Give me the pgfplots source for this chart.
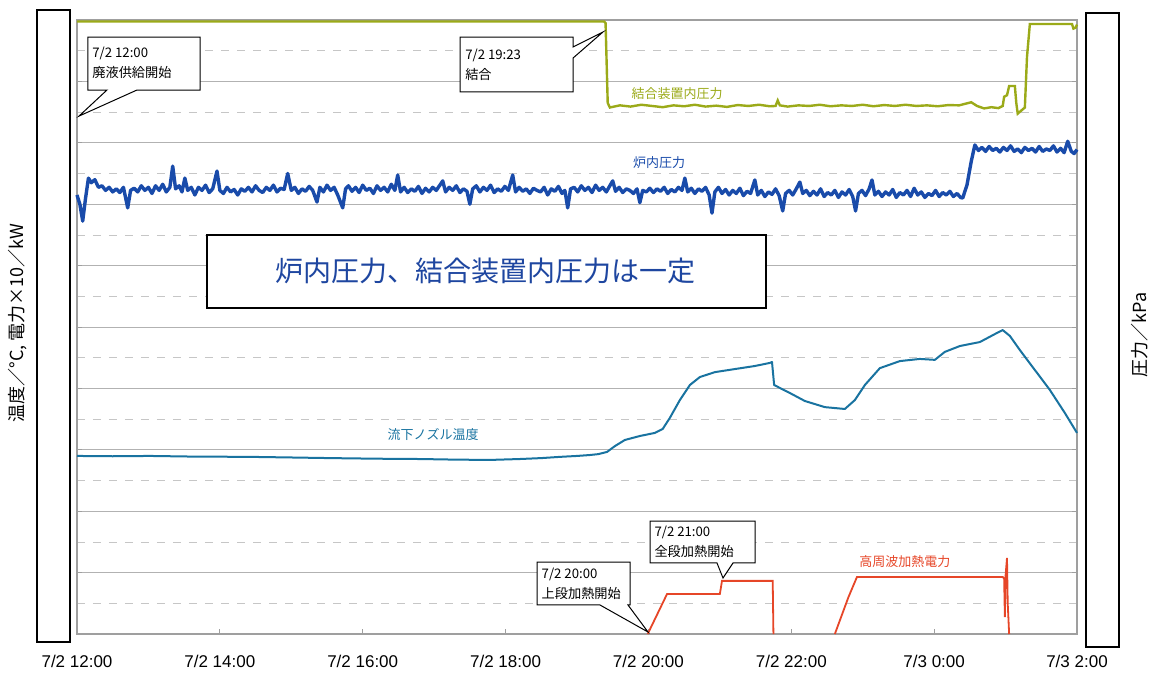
\documentclass[border=0pt]{standalone}
\usepackage{pgfplots}
\pgfplotsset{compat=1.18}
\usepackage{fontspec}
\setmainfont{Liberation Sans}
\newfontfamily\jp{Noto Sans CJK JP}
\definecolor{cgreen}{RGB}{155,170,25}
\definecolor{cblue}{RGB}{25,75,170}
\definecolor{cteal}{RGB}{25,115,160}
\definecolor{cred}{RGB}{230,70,40}
\definecolor{ctext}{RGB}{30,70,160}
\begin{document}
\begin{tikzpicture}
\path[use as bounding box] (-38.5pt,-21.5pt) rectangle (540.5pt,317pt);
\begin{axis}[
  at={(0,0)}, anchor=south west,
  width=500pt, height=307pt, scale only axis,
  xmin=0, xmax=14, ymin=0, ymax=20,
  xtick={0,2,...,14},
  xticklabels={7/2 12:00,7/2 14:00,7/2 16:00,7/2 18:00,7/2 20:00,7/2 22:00,7/3 0:00,7/3 2:00},
  xticklabel style={font=\fontsize{8.5}{10}\selectfont, yshift=-7pt},
  ytick={0,2,...,20}, minor ytick={1,3,...,19},
  yticklabels={},
  ymajorgrids, yminorgrids,
  major grid style={gray!60, line width=0.4pt},
  minor grid style={gray!45, dash pattern=on 4pt off 4pt, line width=0.4pt},
  axis line style={gray!75, line width=0.6pt},
  tick style={gray!75, line width=0.5pt},
  tick align=inside, major tick length=2.5pt, minor tick length=0pt,
  xtick pos=bottom,
  clip=false,
]
% green: pressure in coupling device
\addplot[cgreen, line width=1.2pt] table {
0 19.95
7.38 19.95
7.40 19.9
7.43 17.30
7.46 17.15
7.6 17.22
7.75 17.18
7.9 17.24
8.05 17.2
8.2 17.16
8.35 17.22
8.5 17.19
8.65 17.24
8.8 17.18
8.95 17.21
9.1 17.17
9.25 17.23
9.4 17.2
9.55 17.24
9.7 17.19
9.78 17.2
9.81 17.38
9.84 17.22
9.95 17.18
10.1 17.22
10.25 17.2
10.4 17.24
10.55 17.19
10.7 17.22
10.85 17.2
11.0 17.24
11.15 17.19
11.3 17.23
11.45 17.2
11.6 17.24
11.75 17.2
11.9 17.22
12.05 17.19
12.2 17.23
12.35 17.22
12.45 17.28
12.52 17.32
12.6 17.2
12.7 17.12
12.8 17.16
12.9 17.13
12.96 17.2
12.98 17.5
13.02 17.55
13.05 17.85
13.13 17.85
13.15 17.3
13.17 16.95
13.22 17.05
13.27 17.15
13.3 18.8
13.34 19.87
13.93 19.87
13.95 19.72
13.98 19.75
14.0 19.85
};
% blue: furnace pressure
\addplot[cblue, line width=1.7pt, line join=round] table {
0.00 14.30
0.04 14.00
0.08 13.45
0.12 14.20
0.16 14.85
0.20 14.70
0.25 14.80
0.30 14.55
0.35 14.60
0.40 14.45
0.45 14.55
0.50 14.40
0.55 14.50
0.60 14.38
0.65 14.55
0.71 13.88
0.75 14.45
0.80 14.52
0.85 14.40
0.90 14.60
0.95 14.45
1.00 14.55
1.05 14.35
1.10 14.60
1.15 14.45
1.20 14.65
1.25 14.40
1.30 14.55
1.34 15.24
1.38 14.50
1.43 14.60
1.47 14.40
1.51 14.85
1.55 14.45
1.60 14.55
1.65 14.30
1.70 14.55
1.75 14.45
1.80 14.62
1.85 14.38
1.90 14.50
1.96 15.08
2.00 14.45
2.05 14.35
2.10 14.55
2.15 14.40
2.20 14.48
2.25 14.30
2.30 14.50
2.35 14.42
2.40 14.55
2.45 14.40
2.50 14.60
2.55 14.45
2.60 14.38
2.65 14.55
2.70 14.45
2.75 14.62
2.80 14.40
2.85 14.52
2.90 14.48
2.95 15.00
3.00 14.45
3.05 14.55
3.10 14.35
3.15 14.50
3.20 14.42
3.25 14.58
3.30 14.45
3.36 14.07
3.40 14.55
3.45 14.40
3.50 14.62
3.55 14.45
3.60 14.55
3.65 14.30
3.72 13.88
3.76 14.50
3.80 14.60
3.85 14.42
3.90 14.55
3.95 14.38
4.00 14.62
4.05 14.45
4.10 14.52
4.15 14.35
4.20 14.60
4.25 14.45
4.30 14.55
4.35 14.40
4.40 14.65
4.45 14.45
4.49 14.95
4.53 14.40
4.58 14.55
4.63 14.38
4.68 14.50
4.73 14.42
4.78 14.58
4.83 14.35
4.88 14.52
4.93 14.40
4.98 14.55
5.03 14.45
5.08 14.62
5.12 14.76
5.16 14.40
5.21 14.55
5.26 14.45
5.31 14.60
5.36 14.38
5.41 14.50
5.46 14.42
5.50 14.00
5.54 14.50
5.59 14.60
5.64 14.40
5.69 14.55
5.74 14.45
5.79 14.62
5.84 14.38
5.89 14.50
5.94 14.42
5.99 14.58
6.04 14.45
6.10 14.95
6.14 14.40
6.19 14.55
6.24 14.42
6.29 14.50
6.34 14.35
6.39 14.52
6.44 14.45
6.49 14.40
6.54 14.55
6.59 14.30
6.64 14.50
6.69 14.42
6.74 14.58
6.79 14.35
6.83 14.45
6.87 13.88
6.91 14.50
6.96 14.55
7.01 14.40
7.06 14.60
7.11 14.45
7.16 14.55
7.21 14.38
7.26 14.62
7.31 14.45
7.36 14.55
7.41 14.40
7.46 14.60
7.50 14.76
7.54 14.42
7.59 14.55
7.64 14.38
7.69 14.50
7.74 14.45
7.79 14.35
7.84 14.50
7.88 14.05
7.92 14.45
7.97 14.40
8.02 14.52
8.07 14.38
8.12 14.50
8.17 14.42
8.22 14.55
8.27 14.35
8.32 14.48
8.37 14.40
8.42 14.55
8.47 14.45
8.51 14.85
8.55 14.40
8.60 14.52
8.65 14.35
8.70 14.50
8.75 14.42
8.80 14.55
8.85 14.30
8.89 13.71
8.93 14.40
8.98 14.55
9.03 14.35
9.08 14.48
9.13 14.30
9.18 14.45
9.23 14.35
9.28 14.52
9.33 14.28
9.38 14.42
9.43 14.35
9.49 14.79
9.53 14.30
9.58 14.45
9.63 14.25
9.68 14.40
9.73 14.32
9.78 14.50
9.83 14.28
9.88 13.78
9.92 14.35
9.97 14.45
10.02 14.30
10.07 14.50
10.12 14.72
10.16 14.35
10.21 14.45
10.26 14.28
10.31 14.42
10.36 14.30
10.41 14.50
10.46 14.25
10.51 14.38
10.56 14.30
10.61 14.45
10.66 14.22
10.71 14.40
10.76 14.30
10.81 14.48
10.86 14.25
10.90 13.78
10.94 14.35
10.99 14.45
11.04 14.28
11.09 14.50
11.13 14.79
11.17 14.30
11.22 14.42
11.27 14.25
11.32 14.40
11.37 14.30
11.42 14.48
11.47 14.22
11.52 14.38
11.57 14.30
11.62 14.45
11.67 14.25
11.72 14.52
11.77 14.30
11.82 14.40
11.87 14.22
11.92 14.35
11.97 14.28
12.02 14.45
12.07 14.25
12.12 14.38
12.17 14.30
12.22 14.42
12.27 14.25
12.32 14.35
12.37 14.22
12.40 14.20
12.46 14.63
12.52 15.40
12.57 15.93
12.62 15.75
12.67 15.85
12.72 15.72
12.77 15.88
12.82 15.75
12.87 15.82
12.92 15.70
12.97 15.85
13.02 15.75
13.07 15.90
13.12 15.72
13.17 15.80
13.22 15.68
13.27 15.85
13.32 15.75
13.37 15.82
13.42 15.70
13.47 15.88
13.52 15.72
13.57 15.80
13.62 15.75
13.67 15.90
13.72 15.70
13.77 15.82
13.82 15.68
13.87 16.05
13.92 15.72
13.96 15.65
14.00 15.78
};
% teal: nozzle temperature
\addplot[cteal, line width=1pt, line join=round] table {
0 5.80
0.5 5.79
1.02 5.80
1.6 5.78
2.42 5.77
3.0 5.75
3.54 5.73
4.2 5.71
4.8 5.70
5.3 5.68
5.78 5.67
6.2 5.70
6.5 5.73
6.76 5.77
7.0 5.80
7.18 5.83
7.30 5.86
7.42 5.93
7.53 6.12
7.67 6.32
7.88 6.45
8.09 6.55
8.20 6.68
8.30 7.04
8.44 7.62
8.58 8.11
8.72 8.37
8.93 8.53
9.21 8.63
9.49 8.73
9.70 8.83
9.73 8.86
9.76 8.11
9.98 7.85
10.19 7.59
10.47 7.39
10.75 7.33
10.89 7.62
11.03 8.11
11.24 8.66
11.52 8.89
11.80 8.96
12.01 8.93
12.15 9.19
12.36 9.38
12.64 9.51
12.85 9.77
12.96 9.90
13.06 9.71
13.20 9.25
13.41 8.60
13.62 7.95
13.83 7.20
14.00 6.55
};
% red: induction heating power
\addplot[cred, line width=0.9pt] table {
7.99 0
8.26 1.30
9.00 1.30
9.03 1.73
9.74 1.73
9.75 0
};
\addplot[cred, line width=0.9pt] table {
10.61 0
10.80 1.20
10.92 1.86
12.96 1.86
12.98 1.80
12.99 0.55
13.00 1.90
13.02 2.48
13.03 1.00
13.05 0
};
% callouts
\draw[black, line width=0.5pt, fill=white] (axis cs:0.154,19.446) -- (axis cs:1.722,19.446) -- (axis cs:1.722,17.72) -- (axis cs:0.84,17.72) -- (axis cs:0.028,16.87) -- (axis cs:0.42,17.72) -- (axis cs:0.154,17.72) -- cycle;
\node[anchor=west, align=left, font=\jp\fontsize{6.6}{10}\selectfont, inner sep=0pt] at (axis cs:0.21,18.6) {7/2 12:00\\廃液供給開始};
\draw[black, line width=0.5pt, fill=white] (axis cs:5.362,19.446) -- (axis cs:6.944,19.446) -- (axis cs:6.944,19.12) -- (axis cs:7.364,19.61) -- (axis cs:6.944,18.76) -- (axis cs:6.944,17.655) -- (axis cs:5.362,17.655) -- cycle;
\node[anchor=west, align=left, font=\jp\fontsize{6.6}{10}\selectfont, inner sep=0pt] at (axis cs:5.43,18.55) {7/2 19:23\\結合};
\draw[black, line width=0.5pt, fill=white] (axis cs:6.44,2.345) -- (axis cs:7.742,2.345) -- (axis cs:7.742,0.945) -- (axis cs:7.714,0.945) -- (axis cs:7.994,0.065) -- (axis cs:7.322,0.945) -- (axis cs:6.44,0.945) -- cycle;
\node[anchor=west, align=left, font=\jp\fontsize{6.6}{10}\selectfont, inner sep=0pt] at (axis cs:6.50,1.65) {7/2 20:00\\上段加熱開始};
\draw[black, line width=0.5pt, fill=white] (axis cs:8.022,3.681) -- (axis cs:9.492,3.681) -- (axis cs:9.492,2.313) -- (axis cs:9.184,2.313) -- (axis cs:9.044,1.824) -- (axis cs:8.96,2.313) -- (axis cs:8.022,2.313) -- cycle;
\node[anchor=west, align=left, font=\jp\fontsize{6.6}{10}\selectfont, inner sep=0pt] at (axis cs:8.08,3.0) {7/2 21:00\\全段加熱開始};
% big box
\draw[black, line width=1pt, fill=white] (axis cs:1.82,13.0) rectangle (axis cs:9.646,10.62);
\node[font=\jp\fontsize{14}{16}\selectfont, text=ctext] at (axis cs:5.726,11.82) {炉内圧力、結合装置内圧力は一定};
% series labels
\node[font=\jp\fontsize{6.5}{8}\selectfont, text=cgreen] at (axis cs:8.4,17.59) {結合装置内圧力};
\node[font=\jp\fontsize{6.5}{8}\selectfont, text=cblue] at (axis cs:8.148,15.37) {炉内圧力};
\node[font=\jp\fontsize{6.5}{8}\selectfont, text=cteal] at (axis cs:4.984,6.51) {流下ノズル温度};
\node[font=\jp\fontsize{6.5}{8}\selectfont, text=cred] at (axis cs:11.59,2.345) {高周波加熱電力};
\end{axis}
% masking boxes and axis titles
\draw[black, line width=1pt, fill=white] (-20pt,-4pt) rectangle (-3.5pt,312pt);
\draw[black, line width=1pt, fill=white] (504.5pt,-6.5pt) rectangle (521pt,310.5pt);
\node[rotate=90, font=\jp\fontsize{9}{10}\selectfont] at (-29.5pt,155.5pt) {温度／°C, 電力×10／kW};
\node[rotate=90, font=\jp\fontsize{9}{10}\selectfont] at (531.5pt,149.5pt) {圧力／kPa};
\end{tikzpicture}
\end{document}
